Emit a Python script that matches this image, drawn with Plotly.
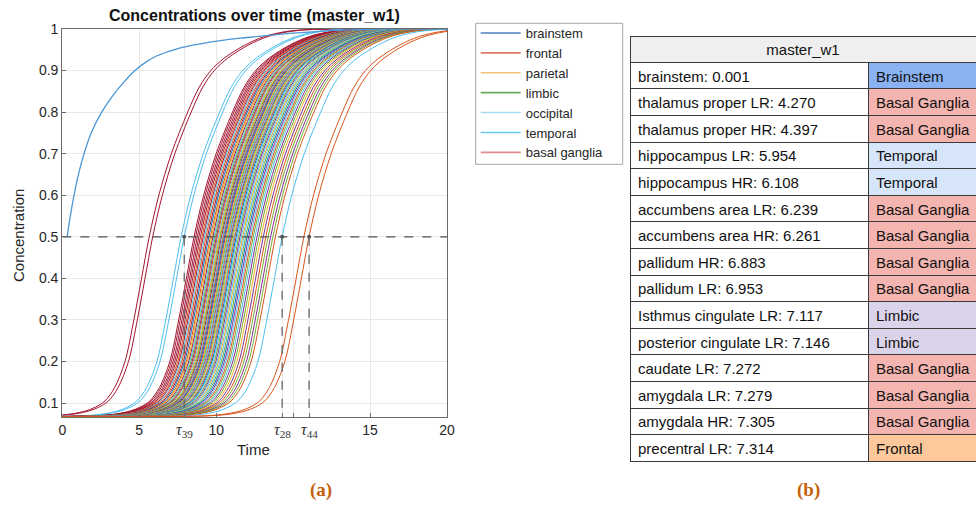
import plotly.graph_objects as go

W, H = 976, 506

# ---------------- data ----------------
# brainstem (seed) curve
brainstem_time = [0.25, 0.4, 0.61, 0.85, 1.13, 1.5, 2.05, 2.6, 3.2, 3.78, 4.4, 4.9, 5.8, 6.8,
                  7.6, 8.5, 9.5, 10.6, 12.0, 13.5, 15.0, 17.0, 20.0]
brainstem_conc = [0.5, 0.545, 0.6, 0.652, 0.7, 0.75, 0.8, 0.838, 0.872, 0.9, 0.922, 0.935, 0.95,
                  0.961, 0.968, 0.974, 0.979, 0.984, 0.99, 0.995, 0.998, 1.0, 1.0]

# common rise profile of the regional curves (time relative to the 0.5 crossing)
profile_offset = [-16, -7, -5, -4, -3.3, -2.8, -2.3, -1.8, -1.26, -0.8, -0.4, 0, 0.5, 1.15, 2.0,
                  2.6, 3.2, 3.9, 5.0, 6.0, 7.0, 8.0, 10.0, 16.0]
profile_conc = [0.067, 0.0675, 0.0695, 0.074, 0.081, 0.09, 0.105, 0.137, 0.2, 0.3, 0.4, 0.5, 0.6,
                0.7, 0.8, 0.86, 0.9, 0.93, 0.962, 0.982, 0.993, 0.998, 1.0, 1.0]

# time at which each regional curve crosses 0.5, and its colour slot
curve_half_time = [4.52, 4.70, 6.18, 6.34,
                   6.85, 6.93, 7.02, 7.10, 7.18, 7.26,
                   7.33, 7.40, 7.47, 7.55, 7.62, 7.70, 7.76, 7.83, 7.89, 7.95,
                   8.01, 8.06, 8.12, 8.17, 8.22, 8.28, 8.33, 8.38, 8.43, 8.48,
                   8.53, 8.58, 8.63, 8.68, 8.73, 8.78, 8.83, 8.88, 8.93, 8.98,
                   9.04, 9.10, 9.17, 9.24, 9.31, 9.38, 9.45, 9.53, 9.61, 9.69,
                   9.77, 9.85, 9.93, 10.02, 10.12, 10.22, 10.33, 10.45, 10.58, 10.70,
                   10.83, 10.95, 11.08, 11.43, 12.56, 12.83]
curve_slot = ['r', 'r', 'c', 'c',
              'r', 'r', 'r', 'r', 'r', 'o',
              'r', 'c', 'o', 'r', 'b', 'o', 'y', 'r', 'c', 'g',
              'p', 'o', 'c', 'y', 'g', 'r', 'c', 'o', 'b', 'p',
              'y', 'g', 'c', 'o', 'c', 'p', 'g', 'y', 'c', 'o',
              'b', 'c', 'g', 'p', 'c', 'y', 'c', 'g', 'b', 'p',
              'c', 'o', 'g', 'c', 'p', 'g', 'y', 'p', 'o', 'g',
              'p', 'g', 'o', 'c', 'o', 'o']

marked_labels = ['39', '28', '44']
marked_times = [6.34, 11.43, 12.83]

x_tick_vals = [0, 4, 8, 12, 16, 20]
x_tick_text = ['0', '5', '10', '', '15', '20']
y_tick_vals = [0.1, 0.2, 0.3, 0.4, 0.5, 0.6, 0.7, 0.8, 0.9, 1.0]
y_tick_text = ['0.1', '0.2', '0.3', '0.4', '0.5', '0.6', '0.7', '0.8', '0.9', '1']

legend_names = ['brainstem', 'frontal', 'parietal', 'limbic', 'occipital', 'temporal', 'basal ganglia']

table_regions = ['brainstem', 'thalamus proper LR', 'thalamus proper HR', 'hippocampus LR',
                 'hippocampus HR', 'accumbens area LR', 'accumbens area HR', 'pallidum HR',
                 'pallidum LR', 'Isthmus cingulate LR', 'posterior cingulate LR', 'caudate LR',
                 'amygdala LR', 'amygdala HR', 'precentral LR']
table_times = [0.001, 4.270, 4.397, 5.954, 6.108, 6.239, 6.261, 6.883, 6.953, 7.117, 7.146,
               7.272, 7.279, 7.305, 7.314]
table_lobes = ['Brainstem', 'Basal Ganglia', 'Basal Ganglia', 'Temporal', 'Temporal',
               'Basal Ganglia', 'Basal Ganglia', 'Basal Ganglia', 'Basal Ganglia', 'Limbic',
               'Limbic', 'Basal Ganglia', 'Basal Ganglia', 'Basal Ganglia', 'Frontal']

# ---------------- styles ----------------
palette = {'b': '#0072BD', 'o': '#D95319', 'y': '#EDB120', 'p': '#7E2F8E',
           'g': '#77AC30', 'c': '#4DBEEE', 'r': '#A2142F'}
legend_colours = ['#4f7fc0', '#e07b6a', '#f2c27a', '#6aaa5e', '#a8daf3', '#6ccbf0', '#e08c8c']
lobe_fill = {'Brainstem': '#8ab2f2', 'Basal Ganglia': '#f4b5b0', 'Temporal': '#d6e5fa',
             'Limbic': '#dad3ea', 'Frontal': '#fcc89c'}
SANS = 'Liberation Sans, Arial, sans-serif'
SERIF = 'Liberation Serif, Times New Roman, serif'
AX = '#6b6b6b'

Y_MIN, Y_MAX = 0.0663, 1.0
px_x = lambda p: p / W
px_y = lambda p: 1 - p / H
nb = lambda s: s.replace(' ', '\u00a0')

fig = go.Figure()

# regional curves
for tau, slot in zip(curve_half_time, curve_slot):
    fig.add_trace(go.Scatter(x=[tau + o for o in profile_offset], y=profile_conc, mode='lines',
                             line=dict(color=palette[slot], width=1.0, shape='spline', smoothing=0.9),
                             showlegend=False, hoverinfo='skip'))

# brainstem curve
fig.add_trace(go.Scatter(x=brainstem_time, y=brainstem_conc, mode='lines',
                         line=dict(color='#4a96d6', width=1.3, shape='spline', smoothing=1.0),
                         showlegend=False, hoverinfo='skip'))

# dashed 0.5 level and tau markers
fig.add_trace(go.Scatter(x=[0, 20], y=[0.5, 0.5], mode='lines',
                         line=dict(color='#505050', width=1.3, dash='dash'),
                         showlegend=False, hoverinfo='skip'))
for t in marked_times:
    fig.add_trace(go.Scatter(x=[t, t], y=[0.5, Y_MIN], mode='lines',
                             line=dict(color='#666666', width=1.3, dash='dash'),
                             showlegend=False, hoverinfo='skip'))
fig.add_trace(go.Scatter(x=marked_times, y=[0.5] * len(marked_times), mode='markers',
                         marker=dict(color='#505050', size=4),
                         showlegend=False, hoverinfo='skip'))

# legend entries
for name, col in zip(legend_names, legend_colours):
    fig.add_trace(go.Scatter(x=[None], y=[None], mode='lines', name=name,
                             line=dict(color=col, width=1.6)))

# tables
fig.add_trace(go.Table(
    domain=dict(x=[px_x(630), 1.0], y=[px_y(62.3), px_y(36)]),
    header=dict(values=['master_w1'], align='center', fill_color='#efefef',
                line=dict(color='#3a3a3a', width=1), height=26,
                font=dict(family=SANS, size=15, color='#111111')),
    cells=dict(values=[[]])))

labels = [nb(f"{r}: {t:.3f}") for r, t in zip(table_regions, table_times)]
lobes = [nb(l) for l in table_lobes]
fills = [lobe_fill[l] for l in table_lobes]
fig.add_trace(go.Table(
    domain=dict(x=[px_x(630), 1.0], y=[px_y(463), px_y(62.3)]),
    columnwidth=[238, 108],
    header=dict(values=[labels[0], lobes[0]], align='left',
                fill_color=['white', fills[0]],
                line=dict(color='#3a3a3a', width=1), height=26.6,
                font=dict(family=SANS, size=15, color='#111111')),
    cells=dict(values=[labels[1:], lobes[1:]], align='left',
               fill_color=[['white'] * (len(labels) - 1), fills[1:]],
               line=dict(color='#3a3a3a', width=1), height=26.6,
               font=dict(family=SANS, size=15, color='#111111'))))

fig.update_layout(
    width=W, height=H, margin=dict(l=0, r=0, t=0, b=0, autoexpand=False),
    paper_bgcolor='white', plot_bgcolor='white',
    xaxis=dict(domain=[px_x(62.3), px_x(447)], range=[0, 20], automargin=False,
               tickvals=x_tick_vals + marked_times, ticktext=x_tick_text + [''] * len(marked_times),
               showline=True, linecolor=AX, linewidth=1.2, mirror=True,
               ticks='inside', ticklen=4, tickcolor=AX,
               showgrid=True, gridcolor='#e8e8e8', zeroline=False,
               tickfont=dict(family=SANS, size=14, color='#262626')),
    yaxis=dict(domain=[px_y(417), px_y(29)], range=[Y_MIN, Y_MAX], automargin=False,
               tickvals=y_tick_vals, ticktext=y_tick_text,
               showline=True, linecolor=AX, linewidth=1.2, mirror=True,
               ticks='inside', ticklen=4, tickcolor=AX,
               showgrid=True, gridcolor='#e8e8e8', zeroline=False,
               tickfont=dict(family=SANS, size=14, color='#262626')),
    legend=dict(x=px_x(475.7), y=px_y(18), xanchor='left', yanchor='top',
                bgcolor='rgba(0,0,0,0)', borderwidth=0,
                font=dict(family=SANS, size=13, color='#262626'), itemwidth=40),
    shapes=[dict(type='rect', xref='paper', yref='paper',
                 x0=px_x(475.7), x1=px_x(622.7), y0=px_y(164.3), y1=px_y(23.3),
                 line=dict(color='#a6a6a6', width=1), fillcolor='rgba(0,0,0,0)', layer='above')],
)

def note(text, x, y, size, colour, family=SANS, angle=0):
    return dict(text=text, x=px_x(x), y=px_y(y), xref='paper', yref='paper',
                xanchor='center', yanchor='middle', showarrow=False, textangle=angle,
                font=dict(family=family, size=size, color=colour))

ann = [
    note('<b>Concentrations over time (master_w1)</b>', 254.5, 15, 16, '#111111'),
    note('Concentration', 18, 236, 15, '#262626', angle=-90),
    note('Time', 254, 449, 15, '#262626'),
    note('<b>(a)</b>', 321, 490, 19, '#c5620e', SERIF),
    note('<b>(b)</b>', 808, 490, 19, '#c5620e', SERIF),
]
for lab, t in zip(marked_labels, marked_times):
    ann.append(dict(text=f'<i>τ</i><sub>{lab}</sub>', x=t, y=px_y(419), xref='x', yref='paper',
                    xanchor='center', yanchor='top', showarrow=False,
                    font=dict(family=SERIF, size=16, color='#333333')))
fig.update_layout(annotations=ann)

fig.write_html('out.html', config={'displayModeBar': False},
               post_script="document.body.style.margin='0px';document.body.style.overflow='hidden';")
